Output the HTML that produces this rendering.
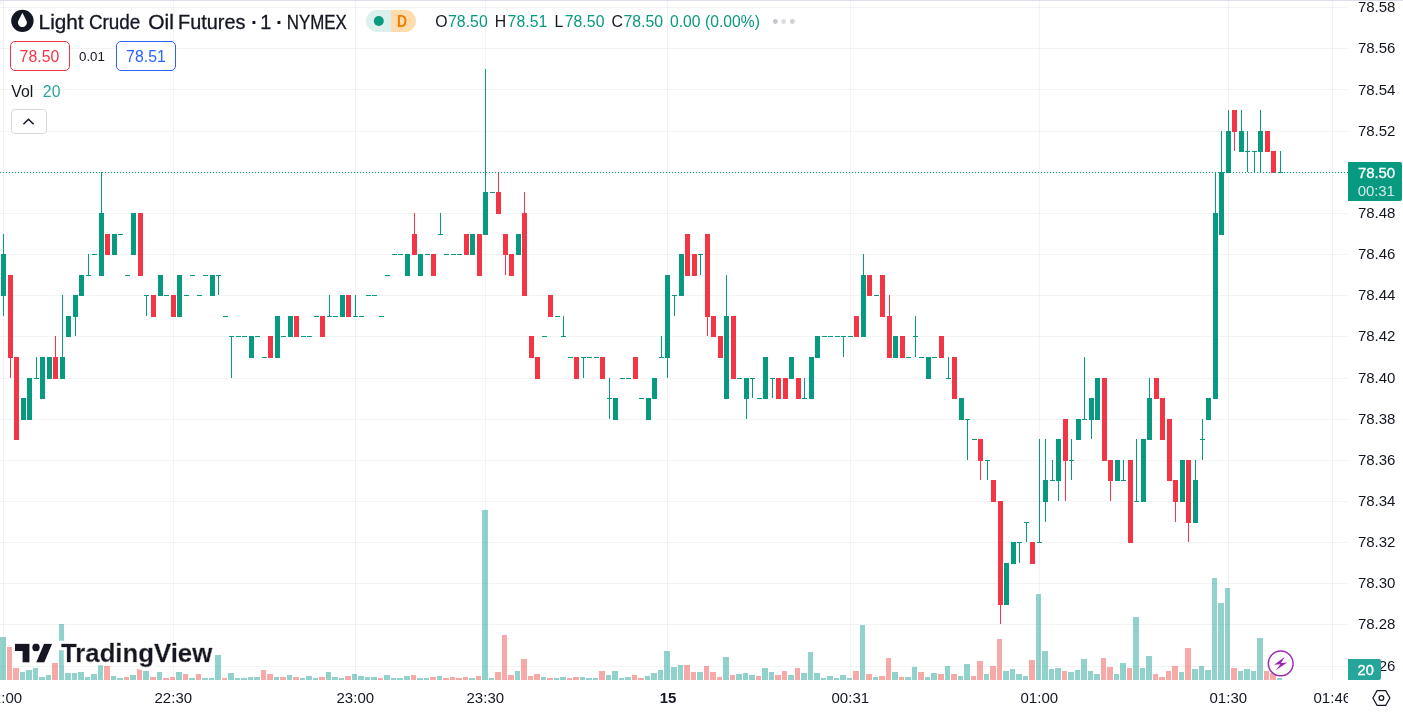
<!DOCTYPE html>
<html lang="en"><head><meta charset="utf-8"><title>Light Crude Oil Futures · 1 · NYMEX — TradingView</title>
<style>
html,body{margin:0;padding:0;background:#fff;}
body{width:1403px;height:714px;overflow:hidden;position:relative;font-family:"Liberation Sans", sans-serif;color:#131722;}
#chart{position:absolute;left:0;top:0;width:1403px;height:714px;display:block;}
svg text{font-family:"Liberation Sans", sans-serif;}
.ax{font-size:15px;fill:#131722;letter-spacing:-0.1px;}
.lg{font-size:15.8px;letter-spacing:0.05px;}
</style></head><body>
<svg id="chart" width="1403" height="714" viewBox="0 0 1403 714">
<rect x="0" y="0" width="1403" height="714" fill="#fff"/>
<g id="grid" fill="#2a2e39" fill-opacity="0.06" shape-rendering="crispEdges">
<rect x="3" y="1" width="1" height="679"/>
<rect x="173" y="1" width="1" height="679"/>
<rect x="355" y="1" width="1" height="679"/>
<rect x="485" y="1" width="1" height="679"/>
<rect x="667" y="1" width="1" height="679"/>
<rect x="850" y="1" width="1" height="679"/>
<rect x="1039" y="1" width="1" height="679"/>
<rect x="1228" y="1" width="1" height="679"/>
<rect x="1332" y="1" width="1" height="679"/>
<rect x="0" y="7" width="1348" height="1"/>
<rect x="0" y="48" width="1348" height="1"/>
<rect x="0" y="89" width="1348" height="1"/>
<rect x="0" y="131" width="1348" height="1"/>
<rect x="0" y="172" width="1348" height="1"/>
<rect x="0" y="213" width="1348" height="1"/>
<rect x="0" y="254" width="1348" height="1"/>
<rect x="0" y="295" width="1348" height="1"/>
<rect x="0" y="336" width="1348" height="1"/>
<rect x="0" y="378" width="1348" height="1"/>
<rect x="0" y="419" width="1348" height="1"/>
<rect x="0" y="460" width="1348" height="1"/>
<rect x="0" y="501" width="1348" height="1"/>
<rect x="0" y="542" width="1348" height="1"/>
<rect x="0" y="583" width="1348" height="1"/>
<rect x="0" y="624" width="1348" height="1"/>
<rect x="0" y="666" width="1348" height="1"/>
</g>
<g id="volume" shape-rendering="crispEdges">
<rect x="0" y="637" width="6" height="43" fill="#26a69a" fill-opacity="0.5"/>
<rect x="7" y="647" width="5" height="33" fill="#ef5350" fill-opacity="0.5"/>
<rect x="13" y="668" width="6" height="12" fill="#ef5350" fill-opacity="0.5"/>
<rect x="20" y="672" width="5" height="8" fill="#26a69a" fill-opacity="0.5"/>
<rect x="26" y="670" width="6" height="10" fill="#26a69a" fill-opacity="0.5"/>
<rect x="33" y="668" width="5" height="12" fill="#26a69a" fill-opacity="0.5"/>
<rect x="39" y="677" width="6" height="3" fill="#26a69a" fill-opacity="0.5"/>
<rect x="46" y="675" width="5" height="5" fill="#26a69a" fill-opacity="0.5"/>
<rect x="52" y="663" width="6" height="17" fill="#ef5350" fill-opacity="0.5"/>
<rect x="59" y="624" width="5" height="56" fill="#26a69a" fill-opacity="0.5"/>
<rect x="65" y="673" width="6" height="7" fill="#26a69a" fill-opacity="0.5"/>
<rect x="72" y="673" width="5" height="7" fill="#26a69a" fill-opacity="0.5"/>
<rect x="78" y="672" width="6" height="8" fill="#26a69a" fill-opacity="0.5"/>
<rect x="85" y="677" width="5" height="3" fill="#26a69a" fill-opacity="0.5"/>
<rect x="91" y="674" width="6" height="6" fill="#26a69a" fill-opacity="0.5"/>
<rect x="98" y="665" width="5" height="15" fill="#26a69a" fill-opacity="0.5"/>
<rect x="104" y="666" width="6" height="14" fill="#ef5350" fill-opacity="0.5"/>
<rect x="111" y="676" width="5" height="4" fill="#26a69a" fill-opacity="0.5"/>
<rect x="117" y="678" width="6" height="2" fill="#26a69a" fill-opacity="0.5"/>
<rect x="124" y="677" width="5" height="3" fill="#ef5350" fill-opacity="0.5"/>
<rect x="130" y="675" width="6" height="5" fill="#26a69a" fill-opacity="0.5"/>
<rect x="137" y="669" width="5" height="11" fill="#ef5350" fill-opacity="0.5"/>
<rect x="143" y="671" width="6" height="9" fill="#26a69a" fill-opacity="0.5"/>
<rect x="150" y="677" width="6" height="3" fill="#ef5350" fill-opacity="0.5"/>
<rect x="157" y="672" width="5" height="8" fill="#26a69a" fill-opacity="0.5"/>
<rect x="163" y="678" width="6" height="2" fill="#ef5350" fill-opacity="0.5"/>
<rect x="170" y="677" width="5" height="3" fill="#ef5350" fill-opacity="0.5"/>
<rect x="176" y="672" width="6" height="8" fill="#26a69a" fill-opacity="0.5"/>
<rect x="183" y="674" width="5" height="6" fill="#ef5350" fill-opacity="0.5"/>
<rect x="189" y="678" width="6" height="2" fill="#26a69a" fill-opacity="0.5"/>
<rect x="196" y="674" width="5" height="6" fill="#ef5350" fill-opacity="0.5"/>
<rect x="202" y="678" width="6" height="2" fill="#26a69a" fill-opacity="0.5"/>
<rect x="209" y="678" width="5" height="2" fill="#26a69a" fill-opacity="0.5"/>
<rect x="215" y="655" width="6" height="25" fill="#26a69a" fill-opacity="0.5"/>
<rect x="222" y="678" width="5" height="2" fill="#ef5350" fill-opacity="0.5"/>
<rect x="228" y="673" width="6" height="7" fill="#26a69a" fill-opacity="0.5"/>
<rect x="235" y="678" width="5" height="2" fill="#26a69a" fill-opacity="0.5"/>
<rect x="241" y="678" width="6" height="2" fill="#26a69a" fill-opacity="0.5"/>
<rect x="248" y="677" width="5" height="3" fill="#26a69a" fill-opacity="0.5"/>
<rect x="254" y="677" width="6" height="3" fill="#26a69a" fill-opacity="0.5"/>
<rect x="261" y="670" width="5" height="10" fill="#ef5350" fill-opacity="0.5"/>
<rect x="267" y="674" width="6" height="6" fill="#ef5350" fill-opacity="0.5"/>
<rect x="274" y="677" width="5" height="3" fill="#26a69a" fill-opacity="0.5"/>
<rect x="280" y="677" width="6" height="3" fill="#ef5350" fill-opacity="0.5"/>
<rect x="287" y="675" width="5" height="5" fill="#26a69a" fill-opacity="0.5"/>
<rect x="293" y="677" width="6" height="3" fill="#ef5350" fill-opacity="0.5"/>
<rect x="300" y="678" width="5" height="2" fill="#26a69a" fill-opacity="0.5"/>
<rect x="306" y="676" width="6" height="4" fill="#26a69a" fill-opacity="0.5"/>
<rect x="313" y="678" width="5" height="2" fill="#26a69a" fill-opacity="0.5"/>
<rect x="319" y="677" width="6" height="3" fill="#ef5350" fill-opacity="0.5"/>
<rect x="326" y="672" width="5" height="8" fill="#26a69a" fill-opacity="0.5"/>
<rect x="332" y="677" width="6" height="3" fill="#26a69a" fill-opacity="0.5"/>
<rect x="339" y="678" width="5" height="2" fill="#26a69a" fill-opacity="0.5"/>
<rect x="345" y="676" width="6" height="4" fill="#ef5350" fill-opacity="0.5"/>
<rect x="352" y="674" width="5" height="6" fill="#26a69a" fill-opacity="0.5"/>
<rect x="358" y="676" width="6" height="4" fill="#26a69a" fill-opacity="0.5"/>
<rect x="365" y="677" width="5" height="3" fill="#26a69a" fill-opacity="0.5"/>
<rect x="371" y="677" width="6" height="3" fill="#26a69a" fill-opacity="0.5"/>
<rect x="378" y="678" width="5" height="2" fill="#ef5350" fill-opacity="0.5"/>
<rect x="384" y="675" width="6" height="5" fill="#26a69a" fill-opacity="0.5"/>
<rect x="391" y="678" width="5" height="2" fill="#26a69a" fill-opacity="0.5"/>
<rect x="397" y="678" width="6" height="2" fill="#26a69a" fill-opacity="0.5"/>
<rect x="404" y="676" width="6" height="4" fill="#26a69a" fill-opacity="0.5"/>
<rect x="411" y="675" width="5" height="5" fill="#ef5350" fill-opacity="0.5"/>
<rect x="417" y="678" width="6" height="2" fill="#26a69a" fill-opacity="0.5"/>
<rect x="424" y="678" width="5" height="2" fill="#26a69a" fill-opacity="0.5"/>
<rect x="430" y="677" width="6" height="3" fill="#ef5350" fill-opacity="0.5"/>
<rect x="437" y="676" width="5" height="4" fill="#26a69a" fill-opacity="0.5"/>
<rect x="443" y="678" width="6" height="2" fill="#ef5350" fill-opacity="0.5"/>
<rect x="450" y="677" width="5" height="3" fill="#ef5350" fill-opacity="0.5"/>
<rect x="456" y="678" width="6" height="2" fill="#ef5350" fill-opacity="0.5"/>
<rect x="463" y="677" width="5" height="3" fill="#ef5350" fill-opacity="0.5"/>
<rect x="469" y="678" width="6" height="2" fill="#26a69a" fill-opacity="0.5"/>
<rect x="476" y="676" width="5" height="4" fill="#ef5350" fill-opacity="0.5"/>
<rect x="482" y="510" width="6" height="170" fill="#26a69a" fill-opacity="0.5"/>
<rect x="489" y="678" width="5" height="2" fill="#26a69a" fill-opacity="0.5"/>
<rect x="495" y="672" width="6" height="8" fill="#ef5350" fill-opacity="0.5"/>
<rect x="502" y="635" width="5" height="45" fill="#ef5350" fill-opacity="0.5"/>
<rect x="508" y="675" width="6" height="5" fill="#ef5350" fill-opacity="0.5"/>
<rect x="515" y="671" width="5" height="9" fill="#26a69a" fill-opacity="0.5"/>
<rect x="521" y="659" width="6" height="21" fill="#ef5350" fill-opacity="0.5"/>
<rect x="528" y="676" width="5" height="4" fill="#ef5350" fill-opacity="0.5"/>
<rect x="534" y="674" width="6" height="6" fill="#ef5350" fill-opacity="0.5"/>
<rect x="541" y="677" width="5" height="3" fill="#26a69a" fill-opacity="0.5"/>
<rect x="547" y="678" width="6" height="2" fill="#ef5350" fill-opacity="0.5"/>
<rect x="554" y="678" width="5" height="2" fill="#26a69a" fill-opacity="0.5"/>
<rect x="560" y="677" width="6" height="3" fill="#26a69a" fill-opacity="0.5"/>
<rect x="567" y="678" width="5" height="2" fill="#ef5350" fill-opacity="0.5"/>
<rect x="573" y="677" width="6" height="3" fill="#ef5350" fill-opacity="0.5"/>
<rect x="580" y="677" width="5" height="3" fill="#26a69a" fill-opacity="0.5"/>
<rect x="586" y="678" width="6" height="2" fill="#26a69a" fill-opacity="0.5"/>
<rect x="593" y="678" width="5" height="2" fill="#26a69a" fill-opacity="0.5"/>
<rect x="599" y="671" width="6" height="9" fill="#ef5350" fill-opacity="0.5"/>
<rect x="606" y="675" width="5" height="5" fill="#26a69a" fill-opacity="0.5"/>
<rect x="612" y="671" width="6" height="9" fill="#26a69a" fill-opacity="0.5"/>
<rect x="619" y="678" width="5" height="2" fill="#26a69a" fill-opacity="0.5"/>
<rect x="625" y="677" width="6" height="3" fill="#26a69a" fill-opacity="0.5"/>
<rect x="632" y="675" width="5" height="5" fill="#ef5350" fill-opacity="0.5"/>
<rect x="638" y="678" width="6" height="2" fill="#ef5350" fill-opacity="0.5"/>
<rect x="645" y="676" width="5" height="4" fill="#26a69a" fill-opacity="0.5"/>
<rect x="651" y="673" width="6" height="7" fill="#26a69a" fill-opacity="0.5"/>
<rect x="658" y="670" width="5" height="10" fill="#26a69a" fill-opacity="0.5"/>
<rect x="664" y="651" width="6" height="29" fill="#26a69a" fill-opacity="0.5"/>
<rect x="671" y="667" width="6" height="13" fill="#26a69a" fill-opacity="0.5"/>
<rect x="678" y="665" width="5" height="15" fill="#26a69a" fill-opacity="0.5"/>
<rect x="684" y="665" width="6" height="15" fill="#ef5350" fill-opacity="0.5"/>
<rect x="691" y="672" width="5" height="8" fill="#ef5350" fill-opacity="0.5"/>
<rect x="697" y="672" width="6" height="8" fill="#26a69a" fill-opacity="0.5"/>
<rect x="704" y="666" width="5" height="14" fill="#ef5350" fill-opacity="0.5"/>
<rect x="710" y="672" width="6" height="8" fill="#ef5350" fill-opacity="0.5"/>
<rect x="717" y="677" width="5" height="3" fill="#ef5350" fill-opacity="0.5"/>
<rect x="723" y="657" width="6" height="23" fill="#26a69a" fill-opacity="0.5"/>
<rect x="730" y="675" width="5" height="5" fill="#ef5350" fill-opacity="0.5"/>
<rect x="736" y="674" width="6" height="6" fill="#26a69a" fill-opacity="0.5"/>
<rect x="743" y="673" width="5" height="7" fill="#26a69a" fill-opacity="0.5"/>
<rect x="749" y="675" width="6" height="5" fill="#26a69a" fill-opacity="0.5"/>
<rect x="756" y="676" width="5" height="4" fill="#ef5350" fill-opacity="0.5"/>
<rect x="762" y="668" width="6" height="12" fill="#26a69a" fill-opacity="0.5"/>
<rect x="769" y="672" width="5" height="8" fill="#26a69a" fill-opacity="0.5"/>
<rect x="775" y="675" width="6" height="5" fill="#ef5350" fill-opacity="0.5"/>
<rect x="782" y="671" width="5" height="9" fill="#ef5350" fill-opacity="0.5"/>
<rect x="788" y="675" width="6" height="5" fill="#26a69a" fill-opacity="0.5"/>
<rect x="795" y="668" width="5" height="12" fill="#ef5350" fill-opacity="0.5"/>
<rect x="801" y="673" width="6" height="7" fill="#26a69a" fill-opacity="0.5"/>
<rect x="808" y="652" width="5" height="28" fill="#26a69a" fill-opacity="0.5"/>
<rect x="814" y="673" width="6" height="7" fill="#26a69a" fill-opacity="0.5"/>
<rect x="821" y="678" width="5" height="2" fill="#26a69a" fill-opacity="0.5"/>
<rect x="827" y="676" width="6" height="4" fill="#26a69a" fill-opacity="0.5"/>
<rect x="834" y="678" width="5" height="2" fill="#26a69a" fill-opacity="0.5"/>
<rect x="840" y="675" width="6" height="5" fill="#26a69a" fill-opacity="0.5"/>
<rect x="847" y="678" width="5" height="2" fill="#26a69a" fill-opacity="0.5"/>
<rect x="853" y="671" width="6" height="9" fill="#ef5350" fill-opacity="0.5"/>
<rect x="860" y="625" width="5" height="55" fill="#26a69a" fill-opacity="0.5"/>
<rect x="866" y="674" width="6" height="6" fill="#ef5350" fill-opacity="0.5"/>
<rect x="873" y="677" width="5" height="3" fill="#26a69a" fill-opacity="0.5"/>
<rect x="879" y="676" width="6" height="4" fill="#ef5350" fill-opacity="0.5"/>
<rect x="886" y="658" width="5" height="22" fill="#ef5350" fill-opacity="0.5"/>
<rect x="892" y="672" width="6" height="8" fill="#26a69a" fill-opacity="0.5"/>
<rect x="899" y="677" width="5" height="3" fill="#ef5350" fill-opacity="0.5"/>
<rect x="905" y="677" width="6" height="3" fill="#26a69a" fill-opacity="0.5"/>
<rect x="912" y="667" width="5" height="13" fill="#26a69a" fill-opacity="0.5"/>
<rect x="918" y="672" width="6" height="8" fill="#ef5350" fill-opacity="0.5"/>
<rect x="925" y="677" width="5" height="3" fill="#26a69a" fill-opacity="0.5"/>
<rect x="931" y="673" width="6" height="7" fill="#26a69a" fill-opacity="0.5"/>
<rect x="938" y="674" width="6" height="6" fill="#ef5350" fill-opacity="0.5"/>
<rect x="945" y="666" width="5" height="14" fill="#26a69a" fill-opacity="0.5"/>
<rect x="951" y="674" width="6" height="6" fill="#ef5350" fill-opacity="0.5"/>
<rect x="958" y="676" width="5" height="4" fill="#26a69a" fill-opacity="0.5"/>
<rect x="964" y="664" width="6" height="16" fill="#26a69a" fill-opacity="0.5"/>
<rect x="971" y="676" width="5" height="4" fill="#ef5350" fill-opacity="0.5"/>
<rect x="977" y="661" width="6" height="19" fill="#ef5350" fill-opacity="0.5"/>
<rect x="984" y="674" width="5" height="6" fill="#26a69a" fill-opacity="0.5"/>
<rect x="990" y="666" width="6" height="14" fill="#ef5350" fill-opacity="0.5"/>
<rect x="997" y="639" width="5" height="41" fill="#ef5350" fill-opacity="0.5"/>
<rect x="1003" y="671" width="6" height="9" fill="#26a69a" fill-opacity="0.5"/>
<rect x="1010" y="669" width="5" height="11" fill="#26a69a" fill-opacity="0.5"/>
<rect x="1016" y="674" width="6" height="6" fill="#26a69a" fill-opacity="0.5"/>
<rect x="1023" y="676" width="5" height="4" fill="#26a69a" fill-opacity="0.5"/>
<rect x="1029" y="660" width="6" height="20" fill="#ef5350" fill-opacity="0.5"/>
<rect x="1036" y="594" width="5" height="86" fill="#26a69a" fill-opacity="0.5"/>
<rect x="1042" y="651" width="6" height="29" fill="#26a69a" fill-opacity="0.5"/>
<rect x="1049" y="669" width="5" height="11" fill="#26a69a" fill-opacity="0.5"/>
<rect x="1055" y="668" width="6" height="12" fill="#26a69a" fill-opacity="0.5"/>
<rect x="1062" y="671" width="5" height="9" fill="#ef5350" fill-opacity="0.5"/>
<rect x="1068" y="672" width="6" height="8" fill="#26a69a" fill-opacity="0.5"/>
<rect x="1075" y="670" width="5" height="10" fill="#26a69a" fill-opacity="0.5"/>
<rect x="1081" y="659" width="6" height="21" fill="#26a69a" fill-opacity="0.5"/>
<rect x="1088" y="671" width="5" height="9" fill="#26a69a" fill-opacity="0.5"/>
<rect x="1094" y="674" width="6" height="6" fill="#26a69a" fill-opacity="0.5"/>
<rect x="1101" y="658" width="5" height="22" fill="#ef5350" fill-opacity="0.5"/>
<rect x="1107" y="667" width="6" height="13" fill="#ef5350" fill-opacity="0.5"/>
<rect x="1114" y="674" width="5" height="6" fill="#26a69a" fill-opacity="0.5"/>
<rect x="1120" y="663" width="6" height="17" fill="#26a69a" fill-opacity="0.5"/>
<rect x="1127" y="668" width="5" height="12" fill="#ef5350" fill-opacity="0.5"/>
<rect x="1133" y="617" width="6" height="63" fill="#26a69a" fill-opacity="0.5"/>
<rect x="1140" y="668" width="5" height="12" fill="#26a69a" fill-opacity="0.5"/>
<rect x="1146" y="656" width="6" height="24" fill="#26a69a" fill-opacity="0.5"/>
<rect x="1153" y="674" width="5" height="6" fill="#ef5350" fill-opacity="0.5"/>
<rect x="1159" y="677" width="6" height="3" fill="#ef5350" fill-opacity="0.5"/>
<rect x="1166" y="671" width="5" height="9" fill="#ef5350" fill-opacity="0.5"/>
<rect x="1172" y="666" width="6" height="14" fill="#ef5350" fill-opacity="0.5"/>
<rect x="1179" y="672" width="5" height="8" fill="#26a69a" fill-opacity="0.5"/>
<rect x="1185" y="648" width="6" height="32" fill="#ef5350" fill-opacity="0.5"/>
<rect x="1192" y="669" width="6" height="11" fill="#26a69a" fill-opacity="0.5"/>
<rect x="1199" y="666" width="5" height="14" fill="#26a69a" fill-opacity="0.5"/>
<rect x="1205" y="670" width="6" height="10" fill="#26a69a" fill-opacity="0.5"/>
<rect x="1212" y="578" width="5" height="102" fill="#26a69a" fill-opacity="0.5"/>
<rect x="1218" y="603" width="6" height="77" fill="#26a69a" fill-opacity="0.5"/>
<rect x="1225" y="588" width="5" height="92" fill="#26a69a" fill-opacity="0.5"/>
<rect x="1231" y="668" width="6" height="12" fill="#ef5350" fill-opacity="0.5"/>
<rect x="1238" y="671" width="5" height="9" fill="#26a69a" fill-opacity="0.5"/>
<rect x="1244" y="669" width="6" height="11" fill="#26a69a" fill-opacity="0.5"/>
<rect x="1251" y="671" width="5" height="9" fill="#26a69a" fill-opacity="0.5"/>
<rect x="1257" y="638" width="6" height="42" fill="#26a69a" fill-opacity="0.5"/>
<rect x="1264" y="671" width="5" height="9" fill="#ef5350" fill-opacity="0.5"/>
<rect x="1270" y="673" width="6" height="7" fill="#ef5350" fill-opacity="0.5"/>
<rect x="1277" y="678" width="5" height="2" fill="#26a69a" fill-opacity="0.5"/>
</g>
<g id="candles" shape-rendering="crispEdges">
<rect x="3" y="234" width="1" height="82" fill="#089981"/>
<rect x="1" y="254" width="5" height="42" fill="#089981"/>
<rect x="10" y="275" width="1" height="103" fill="#f23645"/>
<rect x="8" y="275" width="5" height="83" fill="#f23645"/>
<rect x="16" y="357" width="1" height="82" fill="#f23645"/>
<rect x="14" y="357" width="5" height="83" fill="#f23645"/>
<rect x="23" y="398" width="1" height="21" fill="#089981"/>
<rect x="21" y="398" width="5" height="22" fill="#089981"/>
<rect x="29" y="378" width="1" height="41" fill="#089981"/>
<rect x="27" y="378" width="5" height="42" fill="#089981"/>
<rect x="36" y="357" width="1" height="21" fill="#089981"/>
<rect x="34" y="378" width="5" height="1" fill="#089981"/>
<rect x="42" y="357" width="1" height="41" fill="#089981"/>
<rect x="40" y="357" width="5" height="42" fill="#089981"/>
<rect x="49" y="357" width="1" height="21" fill="#089981"/>
<rect x="47" y="357" width="5" height="22" fill="#089981"/>
<rect x="55" y="336" width="1" height="42" fill="#f23645"/>
<rect x="53" y="357" width="5" height="22" fill="#f23645"/>
<rect x="62" y="295" width="1" height="83" fill="#089981"/>
<rect x="60" y="357" width="5" height="22" fill="#089981"/>
<rect x="68" y="316" width="1" height="20" fill="#089981"/>
<rect x="66" y="316" width="5" height="21" fill="#089981"/>
<rect x="75" y="295" width="1" height="41" fill="#089981"/>
<rect x="73" y="295" width="5" height="22" fill="#089981"/>
<rect x="81" y="275" width="1" height="20" fill="#089981"/>
<rect x="79" y="275" width="5" height="21" fill="#089981"/>
<rect x="88" y="254" width="1" height="21" fill="#089981"/>
<rect x="86" y="275" width="5" height="1" fill="#089981"/>
<rect x="92" y="254" width="5" height="1" fill="#089981"/>
<rect x="101" y="172" width="1" height="103" fill="#089981"/>
<rect x="99" y="213" width="5" height="63" fill="#089981"/>
<rect x="107" y="234" width="1" height="20" fill="#f23645"/>
<rect x="105" y="234" width="5" height="21" fill="#f23645"/>
<rect x="114" y="234" width="1" height="20" fill="#089981"/>
<rect x="112" y="234" width="5" height="21" fill="#089981"/>
<rect x="118" y="234" width="5" height="1" fill="#089981"/>
<rect x="125" y="275" width="5" height="1" fill="#089981"/>
<rect x="133" y="213" width="1" height="41" fill="#089981"/>
<rect x="131" y="213" width="5" height="42" fill="#089981"/>
<rect x="140" y="213" width="1" height="62" fill="#f23645"/>
<rect x="138" y="213" width="5" height="63" fill="#f23645"/>
<rect x="146" y="295" width="1" height="21" fill="#089981"/>
<rect x="144" y="295" width="5" height="1" fill="#089981"/>
<rect x="153" y="295" width="1" height="21" fill="#f23645"/>
<rect x="151" y="295" width="5" height="22" fill="#f23645"/>
<rect x="160" y="275" width="1" height="20" fill="#089981"/>
<rect x="158" y="275" width="5" height="21" fill="#089981"/>
<rect x="164" y="295" width="5" height="1" fill="#089981"/>
<rect x="173" y="295" width="1" height="21" fill="#f23645"/>
<rect x="171" y="295" width="5" height="22" fill="#f23645"/>
<rect x="179" y="275" width="1" height="41" fill="#089981"/>
<rect x="177" y="275" width="5" height="42" fill="#089981"/>
<rect x="184" y="295" width="5" height="1" fill="#089981"/>
<rect x="190" y="275" width="5" height="1" fill="#089981"/>
<rect x="197" y="295" width="5" height="1" fill="#089981"/>
<rect x="203" y="275" width="5" height="1" fill="#089981"/>
<rect x="212" y="275" width="1" height="20" fill="#089981"/>
<rect x="210" y="275" width="5" height="21" fill="#089981"/>
<rect x="218" y="275" width="1" height="20" fill="#089981"/>
<rect x="216" y="275" width="5" height="1" fill="#089981"/>
<rect x="223" y="316" width="5" height="1" fill="#089981"/>
<rect x="231" y="336" width="1" height="42" fill="#089981"/>
<rect x="229" y="336" width="5" height="1" fill="#089981"/>
<rect x="236" y="336" width="5" height="1" fill="#089981"/>
<rect x="242" y="336" width="5" height="1" fill="#089981"/>
<rect x="251" y="336" width="1" height="21" fill="#089981"/>
<rect x="249" y="336" width="5" height="22" fill="#089981"/>
<rect x="255" y="336" width="5" height="1" fill="#089981"/>
<rect x="262" y="357" width="5" height="1" fill="#089981"/>
<rect x="270" y="336" width="1" height="21" fill="#f23645"/>
<rect x="268" y="336" width="5" height="22" fill="#f23645"/>
<rect x="277" y="316" width="1" height="41" fill="#089981"/>
<rect x="275" y="316" width="5" height="42" fill="#089981"/>
<rect x="281" y="336" width="5" height="1" fill="#089981"/>
<rect x="290" y="316" width="1" height="20" fill="#089981"/>
<rect x="288" y="316" width="5" height="21" fill="#089981"/>
<rect x="296" y="316" width="1" height="20" fill="#f23645"/>
<rect x="294" y="316" width="5" height="21" fill="#f23645"/>
<rect x="301" y="336" width="5" height="1" fill="#089981"/>
<rect x="307" y="336" width="5" height="1" fill="#089981"/>
<rect x="314" y="316" width="5" height="1" fill="#089981"/>
<rect x="322" y="316" width="1" height="20" fill="#f23645"/>
<rect x="320" y="316" width="5" height="21" fill="#f23645"/>
<rect x="329" y="295" width="1" height="21" fill="#089981"/>
<rect x="327" y="316" width="5" height="1" fill="#089981"/>
<rect x="333" y="316" width="5" height="1" fill="#089981"/>
<rect x="342" y="295" width="1" height="21" fill="#089981"/>
<rect x="340" y="295" width="5" height="22" fill="#089981"/>
<rect x="348" y="295" width="1" height="21" fill="#f23645"/>
<rect x="346" y="295" width="5" height="22" fill="#f23645"/>
<rect x="355" y="295" width="1" height="21" fill="#089981"/>
<rect x="353" y="316" width="5" height="1" fill="#089981"/>
<rect x="359" y="316" width="5" height="1" fill="#089981"/>
<rect x="366" y="295" width="5" height="1" fill="#089981"/>
<rect x="372" y="295" width="5" height="1" fill="#089981"/>
<rect x="379" y="316" width="5" height="1" fill="#089981"/>
<rect x="385" y="275" width="5" height="1" fill="#089981"/>
<rect x="392" y="254" width="5" height="1" fill="#089981"/>
<rect x="398" y="254" width="5" height="1" fill="#089981"/>
<rect x="407" y="254" width="1" height="21" fill="#089981"/>
<rect x="405" y="254" width="5" height="22" fill="#089981"/>
<rect x="414" y="213" width="1" height="41" fill="#f23645"/>
<rect x="412" y="234" width="5" height="21" fill="#f23645"/>
<rect x="420" y="254" width="1" height="21" fill="#089981"/>
<rect x="418" y="254" width="5" height="22" fill="#089981"/>
<rect x="425" y="254" width="5" height="1" fill="#089981"/>
<rect x="433" y="254" width="1" height="21" fill="#f23645"/>
<rect x="431" y="254" width="5" height="22" fill="#f23645"/>
<rect x="440" y="213" width="1" height="21" fill="#089981"/>
<rect x="438" y="234" width="5" height="1" fill="#089981"/>
<rect x="444" y="254" width="5" height="1" fill="#089981"/>
<rect x="451" y="254" width="5" height="1" fill="#089981"/>
<rect x="457" y="254" width="5" height="1" fill="#089981"/>
<rect x="466" y="234" width="1" height="20" fill="#f23645"/>
<rect x="464" y="234" width="5" height="21" fill="#f23645"/>
<rect x="472" y="234" width="1" height="20" fill="#089981"/>
<rect x="470" y="234" width="5" height="21" fill="#089981"/>
<rect x="479" y="234" width="1" height="41" fill="#f23645"/>
<rect x="477" y="234" width="5" height="42" fill="#f23645"/>
<rect x="485" y="69" width="1" height="165" fill="#089981"/>
<rect x="483" y="192" width="5" height="43" fill="#089981"/>
<rect x="490" y="192" width="5" height="1" fill="#089981"/>
<rect x="498" y="172" width="1" height="41" fill="#f23645"/>
<rect x="496" y="192" width="5" height="22" fill="#f23645"/>
<rect x="505" y="234" width="1" height="41" fill="#f23645"/>
<rect x="503" y="234" width="5" height="21" fill="#f23645"/>
<rect x="511" y="254" width="1" height="21" fill="#f23645"/>
<rect x="509" y="254" width="5" height="22" fill="#f23645"/>
<rect x="518" y="234" width="1" height="20" fill="#089981"/>
<rect x="516" y="234" width="5" height="21" fill="#089981"/>
<rect x="524" y="192" width="1" height="103" fill="#f23645"/>
<rect x="522" y="213" width="5" height="83" fill="#f23645"/>
<rect x="531" y="336" width="1" height="21" fill="#f23645"/>
<rect x="529" y="336" width="5" height="22" fill="#f23645"/>
<rect x="537" y="357" width="1" height="21" fill="#f23645"/>
<rect x="535" y="357" width="5" height="22" fill="#f23645"/>
<rect x="542" y="336" width="5" height="1" fill="#089981"/>
<rect x="550" y="295" width="1" height="21" fill="#f23645"/>
<rect x="548" y="295" width="5" height="22" fill="#f23645"/>
<rect x="555" y="316" width="5" height="1" fill="#089981"/>
<rect x="563" y="316" width="1" height="20" fill="#089981"/>
<rect x="561" y="336" width="5" height="1" fill="#089981"/>
<rect x="568" y="357" width="5" height="1" fill="#089981"/>
<rect x="576" y="357" width="1" height="21" fill="#f23645"/>
<rect x="574" y="357" width="5" height="22" fill="#f23645"/>
<rect x="583" y="357" width="1" height="21" fill="#089981"/>
<rect x="581" y="357" width="5" height="1" fill="#089981"/>
<rect x="587" y="357" width="5" height="1" fill="#089981"/>
<rect x="594" y="357" width="5" height="1" fill="#089981"/>
<rect x="602" y="357" width="1" height="21" fill="#f23645"/>
<rect x="600" y="357" width="5" height="22" fill="#f23645"/>
<rect x="609" y="378" width="1" height="41" fill="#089981"/>
<rect x="607" y="398" width="5" height="1" fill="#089981"/>
<rect x="615" y="398" width="1" height="21" fill="#089981"/>
<rect x="613" y="398" width="5" height="22" fill="#089981"/>
<rect x="620" y="378" width="5" height="1" fill="#089981"/>
<rect x="626" y="378" width="5" height="1" fill="#089981"/>
<rect x="635" y="357" width="1" height="21" fill="#f23645"/>
<rect x="633" y="357" width="5" height="22" fill="#f23645"/>
<rect x="639" y="398" width="5" height="1" fill="#089981"/>
<rect x="648" y="398" width="1" height="21" fill="#089981"/>
<rect x="646" y="398" width="5" height="22" fill="#089981"/>
<rect x="654" y="378" width="1" height="20" fill="#089981"/>
<rect x="652" y="378" width="5" height="21" fill="#089981"/>
<rect x="661" y="336" width="1" height="21" fill="#089981"/>
<rect x="659" y="357" width="5" height="1" fill="#089981"/>
<rect x="667" y="275" width="1" height="103" fill="#089981"/>
<rect x="665" y="275" width="5" height="83" fill="#089981"/>
<rect x="674" y="295" width="1" height="21" fill="#089981"/>
<rect x="672" y="295" width="5" height="1" fill="#089981"/>
<rect x="681" y="254" width="1" height="41" fill="#089981"/>
<rect x="679" y="254" width="5" height="42" fill="#089981"/>
<rect x="687" y="234" width="1" height="41" fill="#f23645"/>
<rect x="685" y="234" width="5" height="42" fill="#f23645"/>
<rect x="694" y="254" width="1" height="21" fill="#f23645"/>
<rect x="692" y="254" width="5" height="22" fill="#f23645"/>
<rect x="700" y="254" width="1" height="21" fill="#089981"/>
<rect x="698" y="254" width="5" height="1" fill="#089981"/>
<rect x="707" y="234" width="1" height="102" fill="#f23645"/>
<rect x="705" y="234" width="5" height="83" fill="#f23645"/>
<rect x="713" y="316" width="1" height="20" fill="#f23645"/>
<rect x="711" y="316" width="5" height="21" fill="#f23645"/>
<rect x="720" y="336" width="1" height="21" fill="#f23645"/>
<rect x="718" y="336" width="5" height="22" fill="#f23645"/>
<rect x="726" y="275" width="1" height="123" fill="#089981"/>
<rect x="724" y="316" width="5" height="83" fill="#089981"/>
<rect x="733" y="316" width="1" height="62" fill="#f23645"/>
<rect x="731" y="316" width="5" height="63" fill="#f23645"/>
<rect x="737" y="378" width="5" height="1" fill="#089981"/>
<rect x="746" y="378" width="1" height="41" fill="#089981"/>
<rect x="744" y="378" width="5" height="21" fill="#089981"/>
<rect x="752" y="378" width="1" height="20" fill="#089981"/>
<rect x="750" y="378" width="5" height="1" fill="#089981"/>
<rect x="757" y="398" width="5" height="1" fill="#089981"/>
<rect x="765" y="357" width="1" height="41" fill="#089981"/>
<rect x="763" y="357" width="5" height="42" fill="#089981"/>
<rect x="772" y="378" width="1" height="20" fill="#089981"/>
<rect x="770" y="378" width="5" height="1" fill="#089981"/>
<rect x="778" y="378" width="1" height="20" fill="#f23645"/>
<rect x="776" y="378" width="5" height="21" fill="#f23645"/>
<rect x="785" y="378" width="1" height="20" fill="#f23645"/>
<rect x="783" y="378" width="5" height="21" fill="#f23645"/>
<rect x="791" y="357" width="1" height="21" fill="#089981"/>
<rect x="789" y="357" width="5" height="22" fill="#089981"/>
<rect x="798" y="378" width="1" height="20" fill="#f23645"/>
<rect x="796" y="378" width="5" height="21" fill="#f23645"/>
<rect x="804" y="378" width="1" height="20" fill="#089981"/>
<rect x="802" y="398" width="5" height="1" fill="#089981"/>
<rect x="811" y="357" width="1" height="41" fill="#089981"/>
<rect x="809" y="357" width="5" height="42" fill="#089981"/>
<rect x="817" y="336" width="1" height="21" fill="#089981"/>
<rect x="815" y="336" width="5" height="22" fill="#089981"/>
<rect x="822" y="336" width="5" height="1" fill="#089981"/>
<rect x="828" y="336" width="5" height="1" fill="#089981"/>
<rect x="835" y="336" width="5" height="1" fill="#089981"/>
<rect x="843" y="336" width="1" height="21" fill="#089981"/>
<rect x="841" y="336" width="5" height="1" fill="#089981"/>
<rect x="848" y="336" width="5" height="1" fill="#089981"/>
<rect x="856" y="316" width="1" height="20" fill="#f23645"/>
<rect x="854" y="316" width="5" height="21" fill="#f23645"/>
<rect x="863" y="254" width="1" height="82" fill="#089981"/>
<rect x="861" y="275" width="5" height="62" fill="#089981"/>
<rect x="869" y="275" width="1" height="20" fill="#f23645"/>
<rect x="867" y="275" width="5" height="21" fill="#f23645"/>
<rect x="874" y="295" width="5" height="1" fill="#089981"/>
<rect x="882" y="275" width="1" height="41" fill="#f23645"/>
<rect x="880" y="275" width="5" height="42" fill="#f23645"/>
<rect x="889" y="295" width="1" height="62" fill="#f23645"/>
<rect x="887" y="316" width="5" height="42" fill="#f23645"/>
<rect x="895" y="336" width="1" height="21" fill="#089981"/>
<rect x="893" y="336" width="5" height="22" fill="#089981"/>
<rect x="902" y="336" width="1" height="21" fill="#f23645"/>
<rect x="900" y="336" width="5" height="22" fill="#f23645"/>
<rect x="906" y="357" width="5" height="1" fill="#089981"/>
<rect x="915" y="316" width="1" height="41" fill="#089981"/>
<rect x="913" y="336" width="5" height="1" fill="#089981"/>
<rect x="919" y="357" width="5" height="1" fill="#089981"/>
<rect x="928" y="357" width="1" height="21" fill="#089981"/>
<rect x="926" y="357" width="5" height="22" fill="#089981"/>
<rect x="932" y="357" width="5" height="1" fill="#089981"/>
<rect x="941" y="336" width="1" height="21" fill="#f23645"/>
<rect x="939" y="336" width="5" height="22" fill="#f23645"/>
<rect x="948" y="357" width="1" height="21" fill="#089981"/>
<rect x="946" y="378" width="5" height="1" fill="#089981"/>
<rect x="954" y="357" width="1" height="41" fill="#f23645"/>
<rect x="952" y="357" width="5" height="42" fill="#f23645"/>
<rect x="961" y="398" width="1" height="21" fill="#089981"/>
<rect x="959" y="398" width="5" height="22" fill="#089981"/>
<rect x="967" y="419" width="1" height="41" fill="#089981"/>
<rect x="965" y="419" width="5" height="1" fill="#089981"/>
<rect x="972" y="439" width="5" height="1" fill="#089981"/>
<rect x="980" y="439" width="1" height="41" fill="#f23645"/>
<rect x="978" y="439" width="5" height="22" fill="#f23645"/>
<rect x="987" y="460" width="1" height="20" fill="#089981"/>
<rect x="985" y="460" width="5" height="1" fill="#089981"/>
<rect x="993" y="480" width="1" height="21" fill="#f23645"/>
<rect x="991" y="480" width="5" height="22" fill="#f23645"/>
<rect x="1000" y="501" width="1" height="123" fill="#f23645"/>
<rect x="998" y="501" width="5" height="104" fill="#f23645"/>
<rect x="1006" y="563" width="1" height="41" fill="#089981"/>
<rect x="1004" y="563" width="5" height="42" fill="#089981"/>
<rect x="1013" y="542" width="1" height="21" fill="#089981"/>
<rect x="1011" y="542" width="5" height="22" fill="#089981"/>
<rect x="1019" y="542" width="1" height="21" fill="#089981"/>
<rect x="1017" y="542" width="5" height="1" fill="#089981"/>
<rect x="1026" y="522" width="1" height="20" fill="#089981"/>
<rect x="1024" y="522" width="5" height="1" fill="#089981"/>
<rect x="1032" y="542" width="1" height="21" fill="#f23645"/>
<rect x="1030" y="542" width="5" height="22" fill="#f23645"/>
<rect x="1039" y="439" width="1" height="103" fill="#089981"/>
<rect x="1037" y="542" width="5" height="1" fill="#089981"/>
<rect x="1045" y="439" width="1" height="83" fill="#089981"/>
<rect x="1043" y="480" width="5" height="22" fill="#089981"/>
<rect x="1052" y="460" width="1" height="20" fill="#089981"/>
<rect x="1050" y="480" width="5" height="1" fill="#089981"/>
<rect x="1058" y="439" width="1" height="62" fill="#089981"/>
<rect x="1056" y="439" width="5" height="42" fill="#089981"/>
<rect x="1065" y="419" width="1" height="82" fill="#f23645"/>
<rect x="1063" y="419" width="5" height="42" fill="#f23645"/>
<rect x="1071" y="439" width="1" height="41" fill="#089981"/>
<rect x="1069" y="460" width="5" height="1" fill="#089981"/>
<rect x="1078" y="419" width="1" height="20" fill="#089981"/>
<rect x="1076" y="419" width="5" height="21" fill="#089981"/>
<rect x="1084" y="357" width="1" height="62" fill="#089981"/>
<rect x="1082" y="419" width="5" height="1" fill="#089981"/>
<rect x="1091" y="398" width="1" height="41" fill="#089981"/>
<rect x="1089" y="398" width="5" height="22" fill="#089981"/>
<rect x="1097" y="378" width="1" height="41" fill="#089981"/>
<rect x="1095" y="378" width="5" height="42" fill="#089981"/>
<rect x="1104" y="378" width="1" height="82" fill="#f23645"/>
<rect x="1102" y="378" width="5" height="83" fill="#f23645"/>
<rect x="1110" y="460" width="1" height="41" fill="#f23645"/>
<rect x="1108" y="460" width="5" height="21" fill="#f23645"/>
<rect x="1117" y="460" width="1" height="20" fill="#089981"/>
<rect x="1115" y="460" width="5" height="21" fill="#089981"/>
<rect x="1123" y="460" width="1" height="20" fill="#089981"/>
<rect x="1121" y="480" width="5" height="1" fill="#089981"/>
<rect x="1130" y="460" width="1" height="82" fill="#f23645"/>
<rect x="1128" y="460" width="5" height="83" fill="#f23645"/>
<rect x="1136" y="439" width="1" height="62" fill="#089981"/>
<rect x="1134" y="501" width="5" height="1" fill="#089981"/>
<rect x="1143" y="439" width="1" height="62" fill="#089981"/>
<rect x="1141" y="439" width="5" height="63" fill="#089981"/>
<rect x="1149" y="378" width="1" height="61" fill="#089981"/>
<rect x="1147" y="398" width="5" height="42" fill="#089981"/>
<rect x="1156" y="378" width="1" height="20" fill="#f23645"/>
<rect x="1154" y="378" width="5" height="21" fill="#f23645"/>
<rect x="1162" y="398" width="1" height="41" fill="#f23645"/>
<rect x="1160" y="398" width="5" height="42" fill="#f23645"/>
<rect x="1169" y="419" width="1" height="61" fill="#f23645"/>
<rect x="1167" y="419" width="5" height="62" fill="#f23645"/>
<rect x="1175" y="480" width="1" height="42" fill="#f23645"/>
<rect x="1173" y="480" width="5" height="22" fill="#f23645"/>
<rect x="1182" y="460" width="1" height="41" fill="#089981"/>
<rect x="1180" y="460" width="5" height="42" fill="#089981"/>
<rect x="1188" y="460" width="1" height="82" fill="#f23645"/>
<rect x="1186" y="460" width="5" height="63" fill="#f23645"/>
<rect x="1195" y="460" width="1" height="62" fill="#089981"/>
<rect x="1193" y="480" width="5" height="43" fill="#089981"/>
<rect x="1202" y="419" width="1" height="41" fill="#089981"/>
<rect x="1200" y="439" width="5" height="1" fill="#089981"/>
<rect x="1208" y="398" width="1" height="21" fill="#089981"/>
<rect x="1206" y="398" width="5" height="22" fill="#089981"/>
<rect x="1215" y="172" width="1" height="226" fill="#089981"/>
<rect x="1213" y="213" width="5" height="186" fill="#089981"/>
<rect x="1221" y="131" width="1" height="103" fill="#089981"/>
<rect x="1219" y="172" width="5" height="63" fill="#089981"/>
<rect x="1228" y="110" width="1" height="62" fill="#089981"/>
<rect x="1226" y="131" width="5" height="42" fill="#089981"/>
<rect x="1234" y="110" width="1" height="41" fill="#f23645"/>
<rect x="1232" y="110" width="5" height="22" fill="#f23645"/>
<rect x="1241" y="110" width="1" height="41" fill="#089981"/>
<rect x="1239" y="131" width="5" height="21" fill="#089981"/>
<rect x="1247" y="131" width="1" height="41" fill="#089981"/>
<rect x="1245" y="151" width="5" height="1" fill="#089981"/>
<rect x="1254" y="151" width="1" height="21" fill="#089981"/>
<rect x="1252" y="151" width="5" height="1" fill="#089981"/>
<rect x="1260" y="110" width="1" height="62" fill="#089981"/>
<rect x="1258" y="131" width="5" height="21" fill="#089981"/>
<rect x="1267" y="131" width="1" height="20" fill="#f23645"/>
<rect x="1265" y="131" width="5" height="21" fill="#f23645"/>
<rect x="1273" y="151" width="1" height="21" fill="#f23645"/>
<rect x="1271" y="151" width="5" height="22" fill="#f23645"/>
<rect x="1280" y="151" width="1" height="21" fill="#089981"/>
<rect x="1278" y="172" width="5" height="1" fill="#089981"/>
</g>
<g id="priceline" fill="#089981" shape-rendering="crispEdges">
<rect x="0" y="172" width="1" height="1"/><rect x="3" y="172" width="1" height="1"/><rect x="6" y="172" width="1" height="1"/><rect x="9" y="172" width="1" height="1"/><rect x="12" y="172" width="1" height="1"/><rect x="15" y="172" width="1" height="1"/><rect x="18" y="172" width="1" height="1"/><rect x="21" y="172" width="1" height="1"/><rect x="24" y="172" width="1" height="1"/><rect x="27" y="172" width="1" height="1"/><rect x="30" y="172" width="1" height="1"/><rect x="33" y="172" width="1" height="1"/><rect x="36" y="172" width="1" height="1"/><rect x="39" y="172" width="1" height="1"/><rect x="42" y="172" width="1" height="1"/><rect x="45" y="172" width="1" height="1"/><rect x="48" y="172" width="1" height="1"/><rect x="51" y="172" width="1" height="1"/><rect x="54" y="172" width="1" height="1"/><rect x="57" y="172" width="1" height="1"/><rect x="60" y="172" width="1" height="1"/><rect x="63" y="172" width="1" height="1"/><rect x="66" y="172" width="1" height="1"/><rect x="69" y="172" width="1" height="1"/><rect x="72" y="172" width="1" height="1"/><rect x="75" y="172" width="1" height="1"/><rect x="78" y="172" width="1" height="1"/><rect x="81" y="172" width="1" height="1"/><rect x="84" y="172" width="1" height="1"/><rect x="87" y="172" width="1" height="1"/><rect x="90" y="172" width="1" height="1"/><rect x="93" y="172" width="1" height="1"/><rect x="96" y="172" width="1" height="1"/><rect x="99" y="172" width="1" height="1"/><rect x="102" y="172" width="1" height="1"/><rect x="105" y="172" width="1" height="1"/><rect x="108" y="172" width="1" height="1"/><rect x="111" y="172" width="1" height="1"/><rect x="114" y="172" width="1" height="1"/><rect x="117" y="172" width="1" height="1"/><rect x="120" y="172" width="1" height="1"/><rect x="123" y="172" width="1" height="1"/><rect x="126" y="172" width="1" height="1"/><rect x="129" y="172" width="1" height="1"/><rect x="132" y="172" width="1" height="1"/><rect x="135" y="172" width="1" height="1"/><rect x="138" y="172" width="1" height="1"/><rect x="141" y="172" width="1" height="1"/><rect x="144" y="172" width="1" height="1"/><rect x="147" y="172" width="1" height="1"/><rect x="150" y="172" width="1" height="1"/><rect x="153" y="172" width="1" height="1"/><rect x="156" y="172" width="1" height="1"/><rect x="159" y="172" width="1" height="1"/><rect x="162" y="172" width="1" height="1"/><rect x="165" y="172" width="1" height="1"/><rect x="168" y="172" width="1" height="1"/><rect x="171" y="172" width="1" height="1"/><rect x="174" y="172" width="1" height="1"/><rect x="177" y="172" width="1" height="1"/><rect x="180" y="172" width="1" height="1"/><rect x="183" y="172" width="1" height="1"/><rect x="186" y="172" width="1" height="1"/><rect x="189" y="172" width="1" height="1"/><rect x="192" y="172" width="1" height="1"/><rect x="195" y="172" width="1" height="1"/><rect x="198" y="172" width="1" height="1"/><rect x="201" y="172" width="1" height="1"/><rect x="204" y="172" width="1" height="1"/><rect x="207" y="172" width="1" height="1"/><rect x="210" y="172" width="1" height="1"/><rect x="213" y="172" width="1" height="1"/><rect x="216" y="172" width="1" height="1"/><rect x="219" y="172" width="1" height="1"/><rect x="222" y="172" width="1" height="1"/><rect x="225" y="172" width="1" height="1"/><rect x="228" y="172" width="1" height="1"/><rect x="231" y="172" width="1" height="1"/><rect x="234" y="172" width="1" height="1"/><rect x="237" y="172" width="1" height="1"/><rect x="240" y="172" width="1" height="1"/><rect x="243" y="172" width="1" height="1"/><rect x="246" y="172" width="1" height="1"/><rect x="249" y="172" width="1" height="1"/><rect x="252" y="172" width="1" height="1"/><rect x="255" y="172" width="1" height="1"/><rect x="258" y="172" width="1" height="1"/><rect x="261" y="172" width="1" height="1"/><rect x="264" y="172" width="1" height="1"/><rect x="267" y="172" width="1" height="1"/><rect x="270" y="172" width="1" height="1"/><rect x="273" y="172" width="1" height="1"/><rect x="276" y="172" width="1" height="1"/><rect x="279" y="172" width="1" height="1"/><rect x="282" y="172" width="1" height="1"/><rect x="285" y="172" width="1" height="1"/><rect x="288" y="172" width="1" height="1"/><rect x="291" y="172" width="1" height="1"/><rect x="294" y="172" width="1" height="1"/><rect x="297" y="172" width="1" height="1"/><rect x="300" y="172" width="1" height="1"/><rect x="303" y="172" width="1" height="1"/><rect x="306" y="172" width="1" height="1"/><rect x="309" y="172" width="1" height="1"/><rect x="312" y="172" width="1" height="1"/><rect x="315" y="172" width="1" height="1"/><rect x="318" y="172" width="1" height="1"/><rect x="321" y="172" width="1" height="1"/><rect x="324" y="172" width="1" height="1"/><rect x="327" y="172" width="1" height="1"/><rect x="330" y="172" width="1" height="1"/><rect x="333" y="172" width="1" height="1"/><rect x="336" y="172" width="1" height="1"/><rect x="339" y="172" width="1" height="1"/><rect x="342" y="172" width="1" height="1"/><rect x="345" y="172" width="1" height="1"/><rect x="348" y="172" width="1" height="1"/><rect x="351" y="172" width="1" height="1"/><rect x="354" y="172" width="1" height="1"/><rect x="357" y="172" width="1" height="1"/><rect x="360" y="172" width="1" height="1"/><rect x="363" y="172" width="1" height="1"/><rect x="366" y="172" width="1" height="1"/><rect x="369" y="172" width="1" height="1"/><rect x="372" y="172" width="1" height="1"/><rect x="375" y="172" width="1" height="1"/><rect x="378" y="172" width="1" height="1"/><rect x="381" y="172" width="1" height="1"/><rect x="384" y="172" width="1" height="1"/><rect x="387" y="172" width="1" height="1"/><rect x="390" y="172" width="1" height="1"/><rect x="393" y="172" width="1" height="1"/><rect x="396" y="172" width="1" height="1"/><rect x="399" y="172" width="1" height="1"/><rect x="402" y="172" width="1" height="1"/><rect x="405" y="172" width="1" height="1"/><rect x="408" y="172" width="1" height="1"/><rect x="411" y="172" width="1" height="1"/><rect x="414" y="172" width="1" height="1"/><rect x="417" y="172" width="1" height="1"/><rect x="420" y="172" width="1" height="1"/><rect x="423" y="172" width="1" height="1"/><rect x="426" y="172" width="1" height="1"/><rect x="429" y="172" width="1" height="1"/><rect x="432" y="172" width="1" height="1"/><rect x="435" y="172" width="1" height="1"/><rect x="438" y="172" width="1" height="1"/><rect x="441" y="172" width="1" height="1"/><rect x="444" y="172" width="1" height="1"/><rect x="447" y="172" width="1" height="1"/><rect x="450" y="172" width="1" height="1"/><rect x="453" y="172" width="1" height="1"/><rect x="456" y="172" width="1" height="1"/><rect x="459" y="172" width="1" height="1"/><rect x="462" y="172" width="1" height="1"/><rect x="465" y="172" width="1" height="1"/><rect x="468" y="172" width="1" height="1"/><rect x="471" y="172" width="1" height="1"/><rect x="474" y="172" width="1" height="1"/><rect x="477" y="172" width="1" height="1"/><rect x="480" y="172" width="1" height="1"/><rect x="483" y="172" width="1" height="1"/><rect x="486" y="172" width="1" height="1"/><rect x="489" y="172" width="1" height="1"/><rect x="492" y="172" width="1" height="1"/><rect x="495" y="172" width="1" height="1"/><rect x="498" y="172" width="1" height="1"/><rect x="501" y="172" width="1" height="1"/><rect x="504" y="172" width="1" height="1"/><rect x="507" y="172" width="1" height="1"/><rect x="510" y="172" width="1" height="1"/><rect x="513" y="172" width="1" height="1"/><rect x="516" y="172" width="1" height="1"/><rect x="519" y="172" width="1" height="1"/><rect x="522" y="172" width="1" height="1"/><rect x="525" y="172" width="1" height="1"/><rect x="528" y="172" width="1" height="1"/><rect x="531" y="172" width="1" height="1"/><rect x="534" y="172" width="1" height="1"/><rect x="537" y="172" width="1" height="1"/><rect x="540" y="172" width="1" height="1"/><rect x="543" y="172" width="1" height="1"/><rect x="546" y="172" width="1" height="1"/><rect x="549" y="172" width="1" height="1"/><rect x="552" y="172" width="1" height="1"/><rect x="555" y="172" width="1" height="1"/><rect x="558" y="172" width="1" height="1"/><rect x="561" y="172" width="1" height="1"/><rect x="564" y="172" width="1" height="1"/><rect x="567" y="172" width="1" height="1"/><rect x="570" y="172" width="1" height="1"/><rect x="573" y="172" width="1" height="1"/><rect x="576" y="172" width="1" height="1"/><rect x="579" y="172" width="1" height="1"/><rect x="582" y="172" width="1" height="1"/><rect x="585" y="172" width="1" height="1"/><rect x="588" y="172" width="1" height="1"/><rect x="591" y="172" width="1" height="1"/><rect x="594" y="172" width="1" height="1"/><rect x="597" y="172" width="1" height="1"/><rect x="600" y="172" width="1" height="1"/><rect x="603" y="172" width="1" height="1"/><rect x="606" y="172" width="1" height="1"/><rect x="609" y="172" width="1" height="1"/><rect x="612" y="172" width="1" height="1"/><rect x="615" y="172" width="1" height="1"/><rect x="618" y="172" width="1" height="1"/><rect x="621" y="172" width="1" height="1"/><rect x="624" y="172" width="1" height="1"/><rect x="627" y="172" width="1" height="1"/><rect x="630" y="172" width="1" height="1"/><rect x="633" y="172" width="1" height="1"/><rect x="636" y="172" width="1" height="1"/><rect x="639" y="172" width="1" height="1"/><rect x="642" y="172" width="1" height="1"/><rect x="645" y="172" width="1" height="1"/><rect x="648" y="172" width="1" height="1"/><rect x="651" y="172" width="1" height="1"/><rect x="654" y="172" width="1" height="1"/><rect x="657" y="172" width="1" height="1"/><rect x="660" y="172" width="1" height="1"/><rect x="663" y="172" width="1" height="1"/><rect x="666" y="172" width="1" height="1"/><rect x="669" y="172" width="1" height="1"/><rect x="672" y="172" width="1" height="1"/><rect x="675" y="172" width="1" height="1"/><rect x="678" y="172" width="1" height="1"/><rect x="681" y="172" width="1" height="1"/><rect x="684" y="172" width="1" height="1"/><rect x="687" y="172" width="1" height="1"/><rect x="690" y="172" width="1" height="1"/><rect x="693" y="172" width="1" height="1"/><rect x="696" y="172" width="1" height="1"/><rect x="699" y="172" width="1" height="1"/><rect x="702" y="172" width="1" height="1"/><rect x="705" y="172" width="1" height="1"/><rect x="708" y="172" width="1" height="1"/><rect x="711" y="172" width="1" height="1"/><rect x="714" y="172" width="1" height="1"/><rect x="717" y="172" width="1" height="1"/><rect x="720" y="172" width="1" height="1"/><rect x="723" y="172" width="1" height="1"/><rect x="726" y="172" width="1" height="1"/><rect x="729" y="172" width="1" height="1"/><rect x="732" y="172" width="1" height="1"/><rect x="735" y="172" width="1" height="1"/><rect x="738" y="172" width="1" height="1"/><rect x="741" y="172" width="1" height="1"/><rect x="744" y="172" width="1" height="1"/><rect x="747" y="172" width="1" height="1"/><rect x="750" y="172" width="1" height="1"/><rect x="753" y="172" width="1" height="1"/><rect x="756" y="172" width="1" height="1"/><rect x="759" y="172" width="1" height="1"/><rect x="762" y="172" width="1" height="1"/><rect x="765" y="172" width="1" height="1"/><rect x="768" y="172" width="1" height="1"/><rect x="771" y="172" width="1" height="1"/><rect x="774" y="172" width="1" height="1"/><rect x="777" y="172" width="1" height="1"/><rect x="780" y="172" width="1" height="1"/><rect x="783" y="172" width="1" height="1"/><rect x="786" y="172" width="1" height="1"/><rect x="789" y="172" width="1" height="1"/><rect x="792" y="172" width="1" height="1"/><rect x="795" y="172" width="1" height="1"/><rect x="798" y="172" width="1" height="1"/><rect x="801" y="172" width="1" height="1"/><rect x="804" y="172" width="1" height="1"/><rect x="807" y="172" width="1" height="1"/><rect x="810" y="172" width="1" height="1"/><rect x="813" y="172" width="1" height="1"/><rect x="816" y="172" width="1" height="1"/><rect x="819" y="172" width="1" height="1"/><rect x="822" y="172" width="1" height="1"/><rect x="825" y="172" width="1" height="1"/><rect x="828" y="172" width="1" height="1"/><rect x="831" y="172" width="1" height="1"/><rect x="834" y="172" width="1" height="1"/><rect x="837" y="172" width="1" height="1"/><rect x="840" y="172" width="1" height="1"/><rect x="843" y="172" width="1" height="1"/><rect x="846" y="172" width="1" height="1"/><rect x="849" y="172" width="1" height="1"/><rect x="852" y="172" width="1" height="1"/><rect x="855" y="172" width="1" height="1"/><rect x="858" y="172" width="1" height="1"/><rect x="861" y="172" width="1" height="1"/><rect x="864" y="172" width="1" height="1"/><rect x="867" y="172" width="1" height="1"/><rect x="870" y="172" width="1" height="1"/><rect x="873" y="172" width="1" height="1"/><rect x="876" y="172" width="1" height="1"/><rect x="879" y="172" width="1" height="1"/><rect x="882" y="172" width="1" height="1"/><rect x="885" y="172" width="1" height="1"/><rect x="888" y="172" width="1" height="1"/><rect x="891" y="172" width="1" height="1"/><rect x="894" y="172" width="1" height="1"/><rect x="897" y="172" width="1" height="1"/><rect x="900" y="172" width="1" height="1"/><rect x="903" y="172" width="1" height="1"/><rect x="906" y="172" width="1" height="1"/><rect x="909" y="172" width="1" height="1"/><rect x="912" y="172" width="1" height="1"/><rect x="915" y="172" width="1" height="1"/><rect x="918" y="172" width="1" height="1"/><rect x="921" y="172" width="1" height="1"/><rect x="924" y="172" width="1" height="1"/><rect x="927" y="172" width="1" height="1"/><rect x="930" y="172" width="1" height="1"/><rect x="933" y="172" width="1" height="1"/><rect x="936" y="172" width="1" height="1"/><rect x="939" y="172" width="1" height="1"/><rect x="942" y="172" width="1" height="1"/><rect x="945" y="172" width="1" height="1"/><rect x="948" y="172" width="1" height="1"/><rect x="951" y="172" width="1" height="1"/><rect x="954" y="172" width="1" height="1"/><rect x="957" y="172" width="1" height="1"/><rect x="960" y="172" width="1" height="1"/><rect x="963" y="172" width="1" height="1"/><rect x="966" y="172" width="1" height="1"/><rect x="969" y="172" width="1" height="1"/><rect x="972" y="172" width="1" height="1"/><rect x="975" y="172" width="1" height="1"/><rect x="978" y="172" width="1" height="1"/><rect x="981" y="172" width="1" height="1"/><rect x="984" y="172" width="1" height="1"/><rect x="987" y="172" width="1" height="1"/><rect x="990" y="172" width="1" height="1"/><rect x="993" y="172" width="1" height="1"/><rect x="996" y="172" width="1" height="1"/><rect x="999" y="172" width="1" height="1"/><rect x="1002" y="172" width="1" height="1"/><rect x="1005" y="172" width="1" height="1"/><rect x="1008" y="172" width="1" height="1"/><rect x="1011" y="172" width="1" height="1"/><rect x="1014" y="172" width="1" height="1"/><rect x="1017" y="172" width="1" height="1"/><rect x="1020" y="172" width="1" height="1"/><rect x="1023" y="172" width="1" height="1"/><rect x="1026" y="172" width="1" height="1"/><rect x="1029" y="172" width="1" height="1"/><rect x="1032" y="172" width="1" height="1"/><rect x="1035" y="172" width="1" height="1"/><rect x="1038" y="172" width="1" height="1"/><rect x="1041" y="172" width="1" height="1"/><rect x="1044" y="172" width="1" height="1"/><rect x="1047" y="172" width="1" height="1"/><rect x="1050" y="172" width="1" height="1"/><rect x="1053" y="172" width="1" height="1"/><rect x="1056" y="172" width="1" height="1"/><rect x="1059" y="172" width="1" height="1"/><rect x="1062" y="172" width="1" height="1"/><rect x="1065" y="172" width="1" height="1"/><rect x="1068" y="172" width="1" height="1"/><rect x="1071" y="172" width="1" height="1"/><rect x="1074" y="172" width="1" height="1"/><rect x="1077" y="172" width="1" height="1"/><rect x="1080" y="172" width="1" height="1"/><rect x="1083" y="172" width="1" height="1"/><rect x="1086" y="172" width="1" height="1"/><rect x="1089" y="172" width="1" height="1"/><rect x="1092" y="172" width="1" height="1"/><rect x="1095" y="172" width="1" height="1"/><rect x="1098" y="172" width="1" height="1"/><rect x="1101" y="172" width="1" height="1"/><rect x="1104" y="172" width="1" height="1"/><rect x="1107" y="172" width="1" height="1"/><rect x="1110" y="172" width="1" height="1"/><rect x="1113" y="172" width="1" height="1"/><rect x="1116" y="172" width="1" height="1"/><rect x="1119" y="172" width="1" height="1"/><rect x="1122" y="172" width="1" height="1"/><rect x="1125" y="172" width="1" height="1"/><rect x="1128" y="172" width="1" height="1"/><rect x="1131" y="172" width="1" height="1"/><rect x="1134" y="172" width="1" height="1"/><rect x="1137" y="172" width="1" height="1"/><rect x="1140" y="172" width="1" height="1"/><rect x="1143" y="172" width="1" height="1"/><rect x="1146" y="172" width="1" height="1"/><rect x="1149" y="172" width="1" height="1"/><rect x="1152" y="172" width="1" height="1"/><rect x="1155" y="172" width="1" height="1"/><rect x="1158" y="172" width="1" height="1"/><rect x="1161" y="172" width="1" height="1"/><rect x="1164" y="172" width="1" height="1"/><rect x="1167" y="172" width="1" height="1"/><rect x="1170" y="172" width="1" height="1"/><rect x="1173" y="172" width="1" height="1"/><rect x="1176" y="172" width="1" height="1"/><rect x="1179" y="172" width="1" height="1"/><rect x="1182" y="172" width="1" height="1"/><rect x="1185" y="172" width="1" height="1"/><rect x="1188" y="172" width="1" height="1"/><rect x="1191" y="172" width="1" height="1"/><rect x="1194" y="172" width="1" height="1"/><rect x="1197" y="172" width="1" height="1"/><rect x="1200" y="172" width="1" height="1"/><rect x="1203" y="172" width="1" height="1"/><rect x="1206" y="172" width="1" height="1"/><rect x="1209" y="172" width="1" height="1"/><rect x="1212" y="172" width="1" height="1"/><rect x="1215" y="172" width="1" height="1"/><rect x="1218" y="172" width="1" height="1"/><rect x="1221" y="172" width="1" height="1"/><rect x="1224" y="172" width="1" height="1"/><rect x="1227" y="172" width="1" height="1"/><rect x="1230" y="172" width="1" height="1"/><rect x="1233" y="172" width="1" height="1"/><rect x="1236" y="172" width="1" height="1"/><rect x="1239" y="172" width="1" height="1"/><rect x="1242" y="172" width="1" height="1"/><rect x="1245" y="172" width="1" height="1"/><rect x="1248" y="172" width="1" height="1"/><rect x="1251" y="172" width="1" height="1"/><rect x="1254" y="172" width="1" height="1"/><rect x="1257" y="172" width="1" height="1"/><rect x="1260" y="172" width="1" height="1"/><rect x="1263" y="172" width="1" height="1"/><rect x="1266" y="172" width="1" height="1"/><rect x="1269" y="172" width="1" height="1"/><rect x="1272" y="172" width="1" height="1"/><rect x="1275" y="172" width="1" height="1"/><rect x="1278" y="172" width="1" height="1"/><rect x="1281" y="172" width="1" height="1"/><rect x="1284" y="172" width="1" height="1"/><rect x="1287" y="172" width="1" height="1"/><rect x="1290" y="172" width="1" height="1"/><rect x="1293" y="172" width="1" height="1"/><rect x="1296" y="172" width="1" height="1"/><rect x="1299" y="172" width="1" height="1"/><rect x="1302" y="172" width="1" height="1"/><rect x="1305" y="172" width="1" height="1"/><rect x="1308" y="172" width="1" height="1"/><rect x="1311" y="172" width="1" height="1"/><rect x="1314" y="172" width="1" height="1"/><rect x="1317" y="172" width="1" height="1"/><rect x="1320" y="172" width="1" height="1"/><rect x="1323" y="172" width="1" height="1"/><rect x="1326" y="172" width="1" height="1"/><rect x="1329" y="172" width="1" height="1"/><rect x="1332" y="172" width="1" height="1"/><rect x="1335" y="172" width="1" height="1"/><rect x="1338" y="172" width="1" height="1"/><rect x="1341" y="172" width="1" height="1"/><rect x="1344" y="172" width="1" height="1"/><rect x="1347" y="172" width="1" height="1"/>
</g>
<rect x="0" y="0" width="1403" height="1" fill="#dee1ec"/><path d="M0.5 4A3.5 3.5 0 0 1 4 0.5" fill="none" stroke="#dee1ec" stroke-opacity="0.7"/>
<g id="price-axis">
<text class="ax" x="1358.1" y="12.2">78.58</text>
<text class="ax" x="1358.1" y="53.3">78.56</text>
<text class="ax" x="1358.1" y="94.5">78.54</text>
<text class="ax" x="1358.1" y="135.6">78.52</text>
<text class="ax" x="1358.1" y="176.8">78.50</text>
<text class="ax" x="1358.1" y="217.9">78.48</text>
<text class="ax" x="1358.1" y="259.1">78.46</text>
<text class="ax" x="1358.1" y="300.2">78.44</text>
<text class="ax" x="1358.1" y="341.4">78.42</text>
<text class="ax" x="1358.1" y="382.5">78.40</text>
<text class="ax" x="1358.1" y="423.7">78.38</text>
<text class="ax" x="1358.1" y="464.8">78.36</text>
<text class="ax" x="1358.1" y="506.0">78.34</text>
<text class="ax" x="1358.1" y="547.1">78.32</text>
<text class="ax" x="1358.1" y="588.3">78.30</text>
<text class="ax" x="1358.1" y="629.4">78.28</text>
<text class="ax" x="1358.1" y="670.6">78.26</text>
<path d="M1348 659h31a2 2 0 0 1 2 2v17a2 2 0 0 1-2 2h-31z" fill="#26a69a"/>
<text x="1357.6" y="674.7" font-size="14.6" fill="#fff" stroke="#fff" stroke-width="0.35">20</text>
<path d="M1348 162h52a2 2 0 0 1 2 2v35a2 2 0 0 1-2 2h-52z" fill="#089981"/>
<text x="1358" y="177.6" font-size="15" letter-spacing="-0.1" fill="#fff" stroke="#fff" stroke-width="0.3">78.50</text>
<text x="1357.8" y="195.6" font-size="15" letter-spacing="-0.1" fill="#fff" fill-opacity="0.8">00:31</text>
</g>
<g id="time-axis">
<clipPath id="tclip"><rect x="0" y="680" width="1348" height="34"/></clipPath>
<g clip-path="url(#tclip)" text-anchor="middle">
<text class="ax" style="font-size:15px;letter-spacing:0.05px" x="3.3" y="702.8">22:00</text>
<text class="ax" style="font-size:15px;letter-spacing:0.05px" x="173.3" y="702.8">22:30</text>
<text class="ax" style="font-size:15px;letter-spacing:0.05px" x="355.3" y="702.8">23:00</text>
<text class="ax" style="font-size:15px;letter-spacing:0.05px" x="485.3" y="702.8">23:30</text>
<text class="ax" style="font-size:15px;letter-spacing:0.05px" x="668.0999999999999" y="702.8" font-weight="bold">15</text>
<text class="ax" style="font-size:15px;letter-spacing:0.05px" x="850.3" y="702.8">00:31</text>
<text class="ax" style="font-size:15px;letter-spacing:0.05px" x="1039.3" y="702.8">01:00</text>
<text class="ax" style="font-size:15px;letter-spacing:0.05px" x="1228.3" y="702.8">01:30</text>
<text class="ax" style="font-size:15px;letter-spacing:0.05px" x="1332.3" y="702.8">01:46</text>
</g>
<g fill="none" stroke="#131722" stroke-width="1.3" stroke-linejoin="round"><path d="M1377 690.7h8.8l4.1 7.3-4.1 7.3h-8.8l-4.1-7.3z"/><circle cx="1381.4" cy="698" r="2.35"/></g>
</g>
<filter id="halo" x="-10%" y="-40%" width="120%" height="180%"><feMorphology in="SourceAlpha" operator="dilate" radius="2.6" result="d"/><feGaussianBlur in="d" stdDeviation="0.4" result="b"/><feFlood flood-color="#fff"/><feComposite in2="b" operator="in" result="h"/><feMerge><feMergeNode in="h"/><feMergeNode in="SourceGraphic"/></feMerge></filter>
<g id="tv-logo" filter="url(#halo)" fill="#131722" stroke="#131722" stroke-width="0.5" stroke-linejoin="round"><g stroke="none" transform="translate(15,639.5) scale(1.05)"><path d="M14 22H7V11H0V4h14v18zM28 22h-8l7.5-18h8L28 22z"/><circle cx="20" cy="7.6" r="3.7"/></g><text x="61" y="662.3" font-size="26.5" font-weight="bold" textLength="151.2" lengthAdjust="spacingAndGlyphs">TradingView</text></g>
<g id="flash"><circle cx="1280.7" cy="663.4" r="12.4" fill="#fff" stroke="#9c27b0" stroke-width="1.4"/>
<path d="M1284.8 656.8L1274.2 664.8L1280.4 664.2L1275.8 670.2L1287.2 662.4L1281 663Z" fill="#9c27b0"/></g>
<g id="legend">
<circle cx="22.4" cy="20.85" r="11.2" fill="#131722"/>
<path d="M22.4 12.8L26.3 20.4A4.45 4.45 0 1 1 18.5 20.4Z" fill="#fff"/>
<g id="title" font-size="19.7" fill="#131722" stroke="#131722" stroke-width="0.3">
<text x="38.6" y="29" textLength="45.0" lengthAdjust="spacingAndGlyphs">Light</text>
<text x="88.9" y="29" textLength="51.5" lengthAdjust="spacingAndGlyphs">Crude</text>
<text x="148.3" y="29" textLength="25.6" lengthAdjust="spacingAndGlyphs">Oil</text>
<text x="178.1" y="29" textLength="67.4" lengthAdjust="spacingAndGlyphs">Futures</text>
<text x="251.1" y="29" font-weight="bold" font-size="21" stroke="none">·</text>
<text x="260.2" y="29">1</text>
<text x="275.90000000000003" y="29" font-weight="bold" font-size="21" stroke="none">·</text>
<text x="286.7" y="29" textLength="60.1" lengthAdjust="spacingAndGlyphs">NYMEX</text>
</g>
<path d="M377 10h14v22h-14a11 11 0 0 1 0-22z" fill="#dcf1ed"/>
<path d="M391 10h14a11 11 0 0 1 0 22h-14z" fill="#ffdcae"/>
<circle cx="378.8" cy="21" r="5" fill="#089981"/>
<text x="397.1" y="26.9" font-size="15.8" font-weight="bold" fill="#f57c00" textLength="10" lengthAdjust="spacingAndGlyphs">D</text>
<text class="lg" x="435.2" y="27" fill="#131722">O</text><text class="lg" x="448.0" y="27" fill="#089981">78.50</text>
<text class="lg" x="494.8" y="27" fill="#131722">H</text><text class="lg" x="507.6" y="27" fill="#089981">78.51</text>
<text class="lg" x="554.6" y="27" fill="#131722">L</text><text class="lg" x="564.7" y="27" fill="#089981">78.50</text>
<text class="lg" x="611.6" y="27" fill="#131722">C</text><text class="lg" x="623.4" y="27" fill="#089981">78.50</text>
<text class="lg" x="669.9" y="27" fill="#089981" textLength="90.2" lengthAdjust="spacingAndGlyphs">0.00 (0.00%)</text>
<g><circle cx="775.4" cy="21.5" r="2.45" fill="#c5c6cc"/><circle cx="783.6" cy="21.5" r="2.45" fill="#dcdde0"/><circle cx="792.4" cy="21.5" r="2.45" fill="#cfd0d5"/></g>
<rect x="10.5" y="41.5" width="59" height="29" rx="4.5" fill="#fff" stroke="#f23645" stroke-width="1"/>
<text class="lg" x="19.6" y="61.7" fill="#f23645">78.50</text>
<text x="79.0" y="61" font-size="13.3" fill="#131722">0.01</text>
<rect x="116.5" y="41.5" width="59" height="29" rx="4.5" fill="#fff" stroke="#2962ff" stroke-width="1"/>
<text class="lg" x="126.1" y="61.7" fill="#2962ff">78.51</text>
<text class="lg" x="11.3" y="96.9" fill="#131722">Vol</text>
<text class="lg" x="42.8" y="96.9" fill="#26a69a">20</text>
<rect x="11.5" y="109.5" width="35" height="24" rx="3.5" fill="#fff" stroke="#d6d9e2" stroke-width="1"/>
<path d="M23.4 124.3l5.1-5 5.1 5" fill="none" stroke="#131722" stroke-width="1.5"/>
</g>
</svg>
</body></html>
